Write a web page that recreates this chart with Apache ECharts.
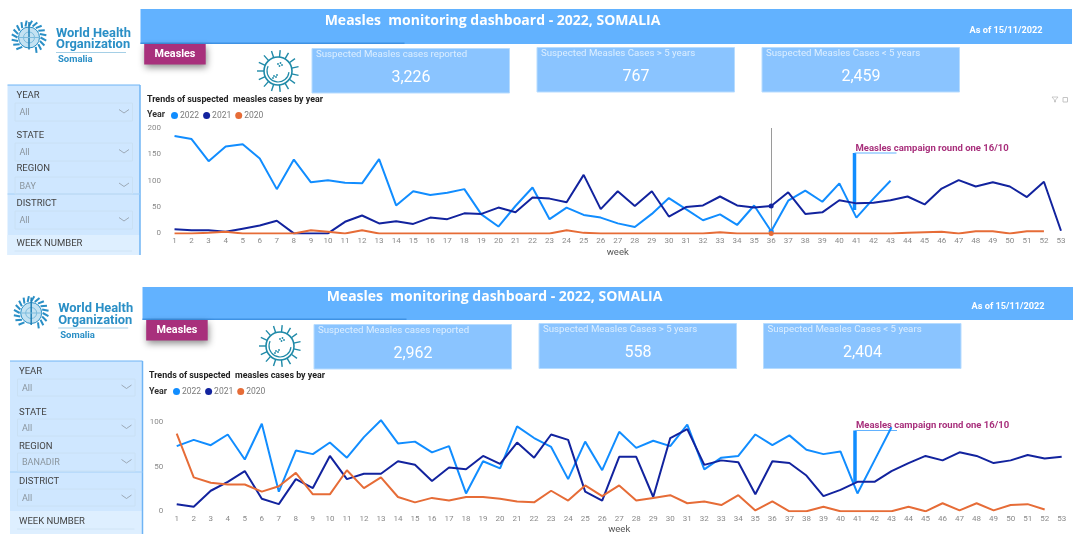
<!DOCTYPE html>
<html>
<head>
<meta charset="utf-8">
<title>Measles monitoring dashboard</title>
<script src="https://cdn.jsdelivr.net/npm/echarts@6/dist/echarts.min.js"></script>
<style>
  html, body { margin: 0; padding: 0; background: #fff; }
  #main { width: 1081px; height: 534px; }
</style>
</head>
<body>
<div id="main"></div>
<script>
// data
const weeks = ['1','2','3','4','5','6','7','8','9','10','11','12','13','14','15','16','17','18','19','20','21','22','23','24','25','26','27','28','29','30','31','32','33','34','35','36','37','38','39','40','41','42','43','44','45','46','47','48','49','50','51','52','53']

const bay2022 = [185,179,137,165,169,142,84,140,97,101,96,95,141,53,80,73,77,84,36,13,52,87,27,49,35,30,19,12,37,67,46,25,36,16,53,4,62,81,60,95,30,66,100]
const bay2021 = [8,6,6,3,9,15,24,0,0,0,22,34,19,23,18,30,27,38,37,49,40,68,66,59,111,46,80,52,80,32,50,53,70,53,49,52,78,37,40,63,57,58,63,70,55,85,101,89,97,89,69,98,5]
const bay2020 = [0,0,1,3,0,0,0,0,6,3,0,6,0,0,0,0,0,0,0,0,0,0,0,6,1,0,0,0,0,0,0,0,2,0,0,0,0,0,0,0,0,0,0,1,2,3,0,4,4,0,4,4]

const banadir2022 = [73,80,74,86,58,98,22,68,64,77,60,83,102,76,78,66,73,20,56,48,95,82,72,36,78,46,89,71,79,73,97,47,60,62,86,74,85,69,64,67,20,57,94]
const banadir2021 = [8,5,23,33,45,14,8,36,26,62,36,42,42,56,52,34,49,47,62,53,77,60,86,80,22,12,61,61,16,82,92,52,57,55,19,56,54,40,17,24,33,33,45,54,62,57,66,62,54,57,63,59,61]
const banadir2020 = [87,38,32,30,30,22,28,43,19,19,46,26,38,16,10,15,12,16,16,14,11,10,23,12,29,17,29,12,15,18,9,11,7,18,1,11,0,0,5,0,0,0,0,5,0,9,1,9,1,7,8,2]

const blue = '#118dff', navy = '#12239e', orange = '#e66c37'
const band = '#62b2ff', plum = '#a8307c', cardBlue = '#8ac4ff'
const font = 'Roboto, "Open Sans", sans-serif'

const text = (x, y, str, fill, size, weight, align, family) => ({
  type: 'text', x, y: y + 1, silent: true,
  style: { text: str, fill, font: `${weight || 'normal'} ${size}px ${family || font}`, align: align || 'left', verticalAlign: 'middle', textAlign: align || 'left', textVerticalAlign: 'middle' }
})
const box = (x, y, width, height, fill, stroke, extra) => ({
  type: 'rect', silent: true,
  shape: { x, y, width, height },
  style: Object.assign({ fill, stroke: stroke || null, lineWidth: stroke ? 1 : 0 }, extra)
})
const seg = (x1, y1, x2, y2, stroke, lineWidth) => ({
  type: 'line', silent: true,
  shape: { x1, y1, x2, y2 },
  style: { stroke, lineWidth }
})

function whoLogo (dx, dy) {
  const c = '#2a8fc6', cx = 29 + dx, cy = 37.5 + dy
  const out = []
  // laurel leaves round the globe
  for (let a = 0; a < 360; a += 18) {
    if (a > 70 && a < 110) continue
    const r = a * Math.PI / 180
    out.push(seg(cx + 11.5 * Math.cos(r), cy + 11.5 * Math.sin(r), cx + 17.5 * Math.cos(r + 0.18), cy + 17 * Math.sin(r + 0.18), c, 2))
  }
  out.push({ type: 'circle', silent: true, shape: { cx, cy, r: 10.5 }, style: { fill: '#c4e2f2', stroke: c, lineWidth: 1 } })
  out.push({ type: 'circle', silent: true, shape: { cx, cy, r: 5.5 }, style: { fill: null, stroke: '#7dbcdd', lineWidth: 1 } })
  out.push(seg(cx, cy - 15.5, cx, cy + 12, '#1f7fb5', 1.5))
  out.push(seg(cx - 10.5, cy, cx + 10.5, cy, '#7dbcdd', 1))
  out.push(text(56 + dx, 32.3 + dy, 'World Health', c, 12.9, 'bold'))
  out.push(text(56 + dx, 44 + dy, 'Organization', c, 12.9, 'bold'))
  out.push(seg(56 + dx, 52.5 + dy, 126 + dx, 52.5 + dy, '#a5cfe6', 1))
  out.push(text(58 + dx, 58.7 + dy, 'Somalia', c, 9.5, 'bold'))
  return out
}

function virusIcon (cx, cy) {
  const c = '#1f8aa8', out = []
  for (let a = 0; a < 360; a += 24) {
    const r = (a + 12) * Math.PI / 180
    out.push(seg(cx + 14 * Math.cos(r), cy + 14 * Math.sin(r), cx + 21 * Math.cos(r), cy + 21 * Math.sin(r), c, 1.4))
  }
  out.push({ type: 'circle', silent: true, shape: { cx, cy, r: 14 }, style: { fill: '#fff', stroke: c, lineWidth: 1.6 } })
  out.push({ type: 'arc', silent: true, shape: { cx, cy, r: 11, startAngle: 0.1, endAngle: 3.6 }, style: { fill: null, stroke: c, lineWidth: 1.2 } })
  ;[[0, -7], [2.5, -8], [4, -6], [1.5, -5], [-4, 5], [-2, 6], [-5, 7], [-1, 4]].forEach(p => {
    out.push({ type: 'circle', silent: true, shape: { cx: cx + p[0], cy: cy + p[1], r: 0.9 }, style: { fill: c } })
  })
  return out
}

function header (p) {
  return [
    box(p.left, p.top, p.right - p.left, p.bottom - p.top, band),
    box(p.left, p.bottom - 1.5, 264, 1.5, '#3f92e4'),
    text(492.5 + p.dx, p.titleY, 'Measles  monitoring dashboard - 2022, SOMALIA', '#fff', 14, 'bold', 'center', '"Open Sans", sans-serif'),
    text(1006 + p.dx, p.asOfY, 'As of 15/11/2022', '#fff', 9.2, 'bold', 'center'),
    box(p.left + 3.7, p.bottom, 61.5, 20.5, plum, null, { shadowBlur: 7, shadowColor: 'rgba(0,0,0,0.45)', shadowOffsetY: 3, shadowOffsetX: 1 }),
    text(p.left + 34.5, p.bottom + 9.5, 'Measles', '#fff', 10.8, 'bold', 'center')
  ]
}

function card (x, y, h, title, value) {
  return [
    box(x, y, 197.5, h, cardBlue, '#b7dcff'),
    text(x + 4, y + 5.5, title, '#dceeff', 9.7, 'normal'),
    text(x + 99, y + 28.5, value, '#fff', 16, 'normal', 'center')
  ]
}

function slicer (x, top, region, rows, bottomY, splitY, lightY) {
  const w = 132.5, out = [
    box(x, top, w, bottomY - top, '#cfe7ff'),
    box(x, lightY, w, bottomY - lightY, '#deefff'),
    seg(x, top, x + w, top, '#6fb4f5', 1),
    seg(x + w, top, x + w, bottomY, '#6fb4f5', 1.5),
    seg(x, splitY, x + w, splitY, '#a4d0f7', 1)
  ]
  rows.forEach(r => {
    out.push(text(x + 9, r.label, r.name, '#444', 9.5, 'normal'))
    if (!r.val) {
      out.push(seg(x + 7, r.box, x + w - 8, r.box, '#d0e4f5', 1))
      return
    }
    out.push(box(x + 7.5, r.box, w - 15, r.boxH, null, '#c9e0f4'))
    out.push(text(x + 12, r.box + r.boxH / 2, r.val, '#8a949c', 9, 'normal'))
    const cy = r.box + r.boxH / 2 - 1, cx = x + w - 16
    out.push({ type: 'polyline', silent: true, shape: { points: [[cx - 5, cy - 1.5], [cx, cy + 2], [cx + 5, cy - 1.5]] }, style: { fill: null, stroke: '#8f99a3', lineWidth: 0.8 } })
  })
  return out
}

function campaignNote (x, top, bottom, labelY) {
  return [
    seg(x, top, x, bottom, blue, 3.5),
    seg(x, top, x + 42, top, band, 1.2),
    text(x + 1, labelY, 'Measles campaign round one 16/10', plum, 9.5, 'bold')
  ]
}

const chartHead = (x, titleY, yearY) => [
  text(x, titleY, 'Trends of suspected  measles cases by year', '#222', 8.9, 'bold'),
  text(x, yearY, 'Year', '#333', 8.9, 'bold')
]

const elements = [].concat(
  whoLogo(0, 0),
  header({ left: 140.5, right: 1072, top: 9, bottom: 44, dx: 0, titleY: 20.5, asOfY: 30 }),
  virusIcon(278, 71),
  card(312, 48.5, 44.5, 'Suspected Measles cases reported', '3,226'),
  card(537, 47.5, 44.5, 'Suspected Measles Cases > 5 years', '767'),
  card(762, 47.5, 44.5, 'Suspected Measles Cases < 5 years', '2,459'),
  slicer(7.5, 85, 'BAY', [
    { name: 'YEAR', label: 95, box: 103, boxH: 18, val: 'All' },
    { name: 'STATE', label: 135, box: 143, boxH: 18, val: 'All' },
    { name: 'REGION', label: 168, box: 177, boxH: 17, val: 'BAY' },
    { name: 'DISTRICT', label: 203, box: 211, boxH: 18, val: 'All' },
    { name: 'WEEK NUMBER', label: 243, box: 251 }
  ], 255, 194, 235),
  chartHead(147, 98.5, 114),
  campaignNote(854.5, 153, 210, 148),
  [
    { type: 'polygon', silent: true, shape: { points: [[1052, 97], [1058, 97], [1055.5, 100], [1055.5, 102], [1054.5, 102], [1054.5, 100]] }, style: { fill: null, stroke: '#b5b5b5', lineWidth: 0.7 } },
    box(1063, 97.5, 4.5, 4.5, null, '#c4c4c4')
  ],

  whoLogo(2.2, 275.5),
  header({ left: 142.5, right: 1073, top: 287, bottom: 320, dx: 2, titleY: 296.5, asOfY: 306 }),
  virusIcon(280, 346),
  card(314, 324.5, 44.5, 'Suspected Measles cases reported', '2,962'),
  card(539, 323.5, 45, 'Suspected Measles Cases > 5 years', '558'),
  card(763.5, 323.5, 45, 'Suspected Measles Cases < 5 years', '2,404'),
  slicer(10, 361, 'BANADIR', [
    { name: 'YEAR', label: 371, box: 379, boxH: 17, val: 'All' },
    { name: 'STATE', label: 412, box: 419, boxH: 17, val: 'All' },
    { name: 'REGION', label: 446, box: 453, boxH: 18, val: 'BANADIR' },
    { name: 'DISTRICT', label: 481, box: 489, boxH: 17, val: 'All' },
    { name: 'WEEK NUMBER', label: 521, box: 529 }
  ], 534, 472, 511),
  chartHead(149, 375, 390.3),
  campaignNote(855, 430.5, 482, 425)
)

const lineSeries = (name, color, data, grid, extra) => Object.assign({
  name, type: 'line', data,
  xAxisIndex: grid, yAxisIndex: grid,
  showSymbol: false, silent: true,
  lineStyle: { color, width: 2 },
  itemStyle: { color },
  animation: false
}, extra)

const xAxis = (gridIndex, nameGap) => ({
  type: 'category', gridIndex, data: weeks,
  name: 'week', nameLocation: 'middle', nameGap,
  nameTextStyle: { color: '#555', fontSize: 9.5, fontFamily: font },
  axisLine: { show: false }, axisTick: { show: false },
  axisLabel: { color: '#8a8a8a', fontSize: 8, interval: 0, margin: 4, fontFamily: font }
})
const yAxis = (gridIndex, max) => ({
  type: 'value', gridIndex, min: 0, max, interval: 50,
  axisLine: { show: false }, axisTick: { show: false }, splitLine: { show: false },
  axisLabel: { color: '#8a8a8a', fontSize: 8, margin: 5, fontFamily: font, showMaxLabel: gridIndex === 0 }
})
const legend = (left, top) => ({
  left, top, icon: 'circle', itemWidth: 7, itemHeight: 7, itemGap: 4, padding: 0,
  selectedMode: false,
  data: ['2022', '2021', '2020'],
  textStyle: { color: '#7a7a7a', fontSize: 8.5, padding: [0, 0, 0, -3], fontFamily: font }
})
const mark = (color, value) => ({
  silent: true, symbol: 'circle', symbolSize: 5,
  itemStyle: { color }, label: { show: false },
  data: [{ coord: ['36', value] }]
})

const chart = echarts.init(document.getElementById('main'), null, { renderer: 'canvas' })
chart.setOption({
  animation: false,
  backgroundColor: '#fff',
  graphic: { elements },
  legend: [legend(171, 111), legend(173, 387)],
  grid: [
    { left: 166, width: 903.5, top: 128, height: 105.4, outerBoundsMode: 'none' },
    { left: 168.2, width: 902, top: 377.3, height: 134, outerBoundsMode: 'none' }
  ],
  xAxis: [xAxis(0, 14), xAxis(1, 13)],
  yAxis: [yAxis(0, 200), yAxis(1, 150)],
  series: [
    lineSeries('2022', blue, bay2022, 0, {
      markLine: { silent: true, symbol: 'none', label: { show: false }, lineStyle: { color: '#9a9a9a', type: 'solid', width: 1 }, data: [{ xAxis: '36' }] },
      markPoint: mark(blue, bay2022[35])
    }),
    lineSeries('2021', navy, bay2021, 0, { markPoint: mark(navy, bay2021[35]) }),
    lineSeries('2020', orange, bay2020, 0, { markPoint: mark(orange, bay2020[35]) }),
    lineSeries('2022', blue, banadir2022, 1),
    lineSeries('2021', navy, banadir2021, 1),
    lineSeries('2020', orange, banadir2020, 1)
  ]
})
</script>
</body>
</html>
